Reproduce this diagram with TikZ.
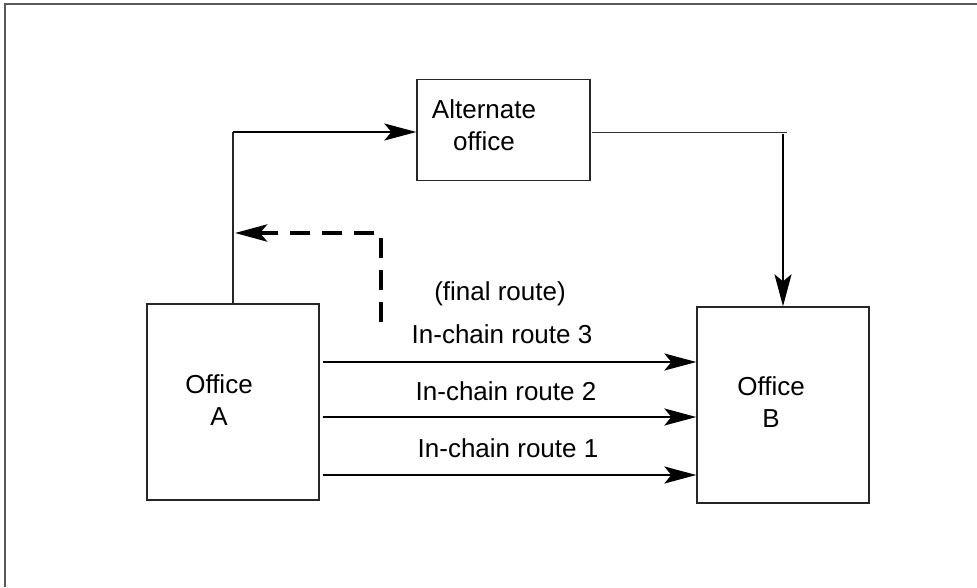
\documentclass[tikz,border=0pt]{standalone}
\usepackage{fontspec}
\setmainfont{Liberation Sans}
\usetikzlibrary{arrows.meta}
\begin{document}
\begin{tikzpicture}[x=1pt,y=-1pt,
  box/.style={draw=black!85, line width=1.3pt, minimum width=#1, inner sep=0pt},
  txt/.style={font=\fontsize{26}{32}\selectfont, inner sep=0pt, align=center},
  tip/.style={-{Stealth[length=32pt,width=17pt,inset=7pt]}},
  route/.style={tip, line width=2pt},
  thinline/.style={line width=1.2pt, draw=black!85},
  finalroute/.style={tip, line width=4.5pt, dash pattern=on 20pt off 12pt}
]
\useasboundingbox (0,0) rectangle (977,587);
% frame (cut at right and bottom)
\draw[line width=1.8pt, draw=black!65] (5,587) -- (5,4) -- (977,4);

% boxes
\node[box=173pt, minimum height=101pt] (alt) at (503.5,130) {};
\node[box=172pt, minimum height=196pt] (A) at (233,402) {};
\node[box=172pt, minimum height=196pt] (B) at (783,405) {};

% box texts
\node[txt] (altlabel) at (484,125) {Alternate\\office};
\node[txt] (Alabel) at (219,400) {Office\\A};
\node[txt] (Blabel) at (771,402) {Office\\B};

% route labels
\node[txt, anchor=base] (finallabel) at (500,300) {(final route)};
\node[txt, anchor=base] (r3label) at (502,343) {In-chain route 3};
\node[txt, anchor=base] (r2label) at (506,400) {In-chain route 2};
\node[txt, anchor=base] (r1label) at (508,457) {In-chain route 1};

% in-chain routes
\coordinate (r3) at (0,362);
\coordinate (r2) at (0,417);
\coordinate (r1) at (0,475);
\draw[route, shorten <=3pt] (A.east |- r3) -- (B.west |- r3);
\draw[route, shorten <=3pt] (A.east |- r2) -- (B.west |- r2);
\draw[route, shorten <=3pt] (A.east |- r1) -- (B.west |- r1);

% alternate route
\coordinate (up) at (233,132);
\draw[thinline] (A.north -| up) -- (up);
\draw[route] (up) -- (alt.west |- up);
\coordinate (altout) at (592,132);
\coordinate (altend) at (787,132);
\draw[line width=1pt, draw=black!80] (altout) -- (altend);
\coordinate (down) at (783,134);
\draw[route] (down) -- (B.north -| down);

% final route (dashed)
\coordinate (fstart) at (381,322);
\coordinate (ftip) at (235,233);
\draw[finalroute] (fstart) |- (ftip);
\end{tikzpicture}
\end{document}
